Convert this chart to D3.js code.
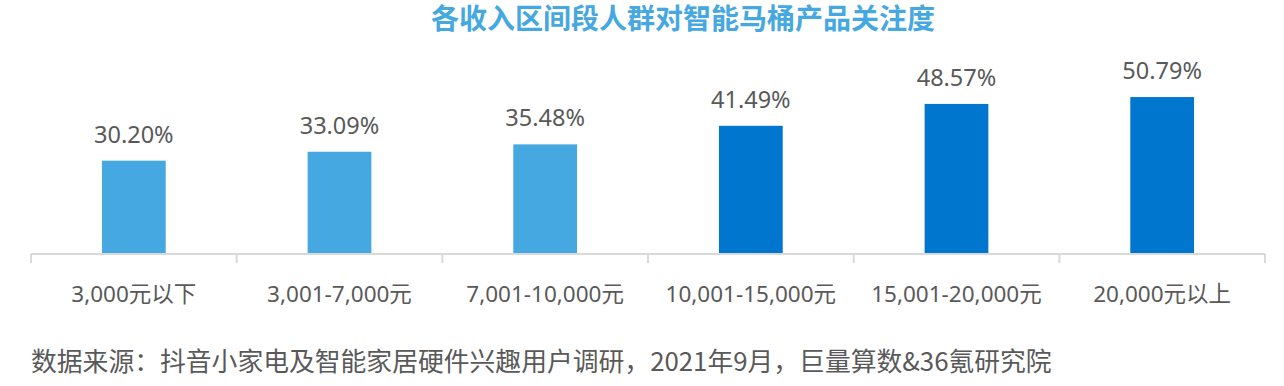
<!DOCTYPE html>
<html>
  <head>
    <meta charset="utf-8">
    <title>各收入区间段人群对智能马桶产品关注度</title>
    <style>
      body {
        margin: 0;
        background-color: white;
      }

      .title {
        fill: #45a8e0;
        font: bold 28px "Noto Sans CJK SC", sans-serif;
      }

      .valueLabel {
        fill: #595959;
        font: 23.5px "Noto Sans", "Noto Sans CJK SC", sans-serif;
      }

      .axis text {
        fill: #595959;
        font: 22.5px "Noto Sans", "Noto Sans CJK SC", sans-serif;
      }

      .axis path,
      .axis line {
        fill: none;
        stroke: #d9d9d9;
        stroke-width: 2px;
      }

      .source {
        fill: #595959;
        font: 25.8px "Noto Sans CJK SC", sans-serif;
      }
    </style>
  </head>
  <body>
  <svg class="graph"></svg>
  <script src="https://cdn.jsdelivr.net/npm/d3@7"></script>
  <script>

  var categories = ["3,000元以下", "3,001-7,000元", "7,001-10,000元", "10,001-15,000元", "15,001-20,000元", "20,000元以上"];
  var values = [30.20, 33.09, 35.48, 41.49, 48.57, 50.79];
  var barColors = ["#45a8e0", "#45a8e0", "#45a8e0", "#0076cf", "#0076cf", "#0076cf"];

  var width = 1284, height = 386;
  var left = 31, right = 1265, baseY = 254;

  var graph = d3.select("svg")
    .attr("width", width)
    .attr("height", height);

  var x = d3.scaleBand()
    .domain(categories)
    .range([left, right])
    .padding(0);

  var y = d3.scaleLinear()
    .domain([0, 60])
    .range([baseY, baseY - 185.4]);

  var barWidth = x.bandwidth() * 0.31;

  // bars
  graph.selectAll("rect.bar")
    .data(values)
    .enter().append("rect")
    .attr("class", "bar")
    .attr("x", function(d, i) { return x(categories[i]) + (x.bandwidth() - barWidth) / 2; })
    .attr("y", function(d) { return y(d); })
    .attr("width", barWidth)
    .attr("height", function(d) { return y(0) - y(d); })
    .style("fill", function(d, i) { return barColors[i]; });

  // value labels
  graph.selectAll("text.valueLabel")
    .data(values)
    .enter().append("text")
    .attr("class", "valueLabel")
    .attr("x", function(d, i) { return x(categories[i]) + x.bandwidth() / 2; })
    .attr("y", function(d) { return y(d) - 18; })
    .style("text-anchor", "middle")
    .text(function(d) { return d.toFixed(2) + "%"; });

  // x axis with ticks between categories
  var xAxis = graph.append("g")
    .attr("class", "axis")
    .attr("transform", "translate(0," + baseY + ")");

  xAxis.append("path")
    .attr("d", "M" + left + ",0H" + right);

  var bounds = categories.map(function(c) { return x(c); }).concat([right]);
  xAxis.selectAll("line")
    .data(bounds)
    .enter().append("line")
    .attr("x1", function(d) { return d; })
    .attr("x2", function(d) { return d; })
    .attr("y1", 0)
    .attr("y2", 9);

  xAxis.selectAll("text")
    .data(categories)
    .enter().append("text")
    .attr("x", function(d) { return x(d) + x.bandwidth() / 2; })
    .attr("y", 48)
    .style("text-anchor", "middle")
    .text(function(d) { return d; });

  // title
  graph.append("text")
    .attr("class", "title")
    .attr("x", 683)
    .attr("y", 29)
    .style("text-anchor", "middle")
    .text("各收入区间段人群对智能马桶产品关注度");

  // source
  graph.append("text")
    .attr("class", "source")
    .attr("x", 31)
    .attr("y", 371)
    .text("数据来源：抖音小家电及智能家居硬件兴趣用户调研，2021年9月，巨量算数&36氪研究院");

  </script>
  </body>
</html>
